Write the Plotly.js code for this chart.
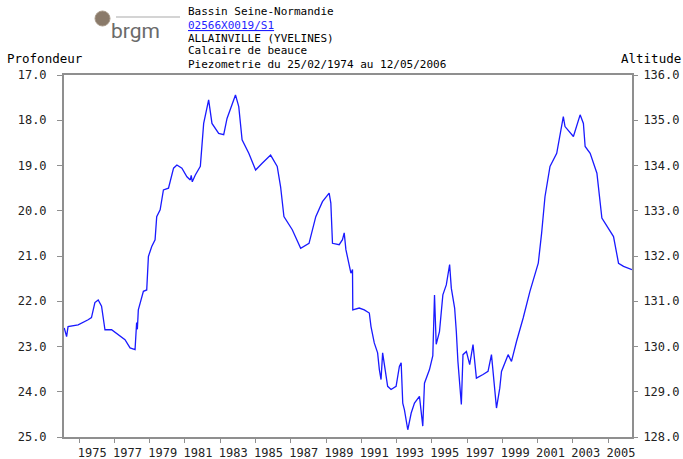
<!DOCTYPE html>
<html>
<head>
<meta charset="utf-8">
<script src="https://cdn.plot.ly/plotly-3.0.1.min.js"></script>
<style>
  body { margin: 0; background: #fff; }
  #chart { width: 683px; height: 459px; }
</style>
</head>
<body>
<div id="chart"></div>
<script>
// piezometre 02566X0019/S1 - niveau (profondeur en m)
var dates = [
  '1974-02-25','1974-04-15','1974-05-15','1974-12-10','1975-07-05','1975-09-12','1975-11-22',
  '1976-01-30','1976-04-08','1976-06-18','1976-11-02','1977-03-20','1977-08-07','1977-11-20',
  '1978-03-03','1978-04-05','1978-04-20','1978-05-10','1978-08-23','1978-10-31','1978-12-05','1979-02-12',
  '1979-04-22','1979-05-26','1979-08-05','1979-10-12','1980-01-25','1980-05-09','1980-07-17',
  '1980-10-29','1981-02-10','1981-04-21','1981-05-10','1981-06-01','1981-08-03','1981-11-15','1982-01-23','1982-05-06',
  '1982-07-14','1982-11-30','1983-03-14','1983-05-22','1983-09-03','1983-11-13','1984-01-20',
  '1984-03-29','1984-08-15','1985-01-03','1985-05-19','1985-11-10','1986-03-27','1986-06-05',
  '1986-08-13','1987-02-02','1987-07-26','1988-01-15','1988-06-03','1988-10-19','1989-03-07',
  '1989-04-11','1989-05-15','1989-10-01','1989-12-08','1990-01-13','1990-02-17','1990-04-26',
  '1990-06-01','1990-07-04','1990-07-10','1990-11-20','1991-03-05','1991-06-17','1991-07-22',
  '1991-09-28','1991-12-06','1992-01-11','1992-02-15','1992-03-19','1992-04-23','1992-07-01',
  '1992-09-10','1992-12-23','1993-03-01','1993-04-07','1993-05-10','1993-06-14','1993-08-22',
  '1993-11-01','1994-01-08','1994-04-21','1994-06-29','1994-08-03','1994-11-15','1995-01-23',
  '1995-02-27','1995-04-03','1995-06-10','1995-08-19','1995-10-29','1996-01-06','1996-02-10',
  '1996-04-19','1996-05-24','1996-06-26','1996-09-05','1996-10-09','1996-12-19','1997-02-25',
  '1997-05-05','1997-07-14','1997-11-28','1998-03-12','1998-05-22','1998-06-24','1998-09-03',
  '1998-11-10','1998-12-16','1999-05-02','1999-07-11','1999-10-23','2000-03-09','2000-07-27',
  '2001-01-16','2001-03-27','2001-06-04','2001-09-16','2002-02-02','2002-06-19','2002-07-24',
  '2003-01-14','2003-06-02','2003-08-09','2003-09-14','2003-12-27','2004-05-15','2004-08-26',
  '2004-12-08','2005-04-24','2005-08-06','2005-11-18','2006-05-12'
];
var profondeur = [
  22.59, 22.78, 22.56, 22.52, 22.41, 22.36, 22.03,
  21.97, 22.11, 22.63, 22.63, 22.74, 22.85, 23.03,
  23.07, 22.47, 22.62, 22.19, 21.78, 21.75, 21.01, 20.79,
  20.64, 20.13, 19.98, 19.54, 19.50, 19.06, 18.99,
  19.06, 19.25, 19.32, 19.22, 19.36, 19.21, 19.02, 18.07, 17.55,
  18.07, 18.29, 18.32, 17.96, 17.66, 17.44, 17.70,
  18.43, 18.73, 19.10, 18.95, 18.77, 19.02, 19.47,
  20.13, 20.42, 20.83, 20.72, 20.13, 19.80, 19.61,
  19.83, 20.72, 20.75, 20.64, 20.49, 20.86, 21.16,
  21.38, 21.30, 22.19, 22.15, 22.19, 22.26, 22.56,
  22.92, 23.14, 23.51, 23.73, 23.14, 23.36, 23.88,
  23.95, 23.88, 23.44, 23.36, 24.25, 24.40, 24.84,
  24.47, 24.25, 24.10, 24.76, 23.81, 23.51, 23.20,
  21.86, 22.95, 22.67, 21.86, 21.64, 21.19, 21.71,
  22.15, 22.67, 23.33, 24.28, 23.18, 23.11, 23.40,
  22.96, 23.70, 23.62, 23.55, 23.18, 23.55, 24.36,
  23.92, 23.55, 23.18, 23.33, 22.89, 22.37, 21.78,
  21.16, 20.49, 19.69, 19.02, 18.73, 17.92, 18.14,
  18.36, 17.88, 18.07, 18.58, 18.73, 19.17, 20.16,
  20.35, 20.57, 21.16, 21.23, 21.30
];

var depthRange = [25, 17];
var altRange = [128, 136];
var axisGrey = '#8f8f8f';
var mono = 'DejaVu Sans Mono, monospace';

var header = [
  {text: 'Bassin Seine-Normandie', py: 12, color: '#000'},
  {text: '<u>02566X0019/S1</u>', py: 25, color: '#1f1fff'},
  {text: 'ALLAINVILLE (YVELINES)', py: 38, color: '#000'},
  {text: 'Calcaire de beauce', py: 51, color: '#000'},
  {text: 'Piezometrie du 25/02/1974 au 12/05/2006', py: 64, color: '#000'}
];

// conversion pixel -> papier (zone de trace 64..632 x 75..437)
function px(x) { return (x - 64) / 568; }
function py(y) { return (437 - y) / 362; }

var annotations = header.map(function (h) {
  return {text: h.text, xref: 'paper', yref: 'paper', x: px(187), y: py(h.py),
          xanchor: 'left', yanchor: 'middle', showarrow: false, borderpad: 0,
          font: {family: mono, size: 11, color: h.color}};
});
annotations.push({text: 'Profondeur', xref: 'paper', yref: 'paper', x: px(6), y: py(59),
  xanchor: 'left', yanchor: 'middle', showarrow: false, borderpad: 0,
  font: {family: mono, size: 12.5, color: '#000'}});
annotations.push({text: 'Altitude', xref: 'paper', yref: 'paper', x: px(682), y: py(59),
  xanchor: 'right', yanchor: 'middle', showarrow: false, borderpad: 0,
  font: {family: mono, size: 12.5, color: '#000'}});
annotations.push({text: 'brgm', xref: 'paper', yref: 'paper', x: px(110), y: py(31),
  xanchor: 'left', yanchor: 'middle', showarrow: false, borderpad: 0,
  font: {family: 'Roboto, sans-serif', size: 21, color: '#6b6b6b'}});

var shapes = [
  {type: 'circle', xref: 'paper', yref: 'paper', x0: px(95), x1: px(110), y0: py(26), y1: py(11),
   fillcolor: '#8a7a6a', line: {color: '#a89a8a', width: 1}},
  {type: 'line', xref: 'paper', yref: 'paper', x0: px(116), x1: px(180), y0: py(17), y1: py(17),
   line: {color: '#d4d4d4', width: 2}}
];

var data = [{
  x: dates,
  y: profondeur,
  type: 'scatter',
  mode: 'lines',
  line: {color: '#1a1aff', width: 1.3},
  hoverinfo: 'x+y',
  showlegend: false
}, {
  // trace vide pour afficher l'axe Altitude
  x: [],
  y: [],
  yaxis: 'y2',
  type: 'scatter',
  mode: 'lines',
  showlegend: false
}];

var layout = {
  width: 683,
  height: 459,
  margin: {l: 64, r: 51, t: 75, b: 22},
  paper_bgcolor: '#fff',
  plot_bgcolor: '#fff',
  showlegend: false,
  xaxis: {
    type: 'date',
    range: ['1974-02-20', '2006-05-12'],
    tick0: '1975-01-01',
    dtick: 'M24',
    tickformat: '%Y',
    ticks: 'outside', ticklen: 4, tickcolor: axisGrey,
    ticklabelshift: 13,
    showgrid: false, zeroline: false,
    showline: true, linecolor: axisGrey, linewidth: 2, mirror: true,
    tickfont: {family: mono, size: 12, color: '#222'}
  },
  yaxis: {
    range: depthRange,
    dtick: 1, tickformat: '.1f',
    ticks: 'outside', ticklen: 5, tickcolor: axisGrey,
    ticklabelstandoff: 8,
    showgrid: false, zeroline: false,
    showline: true, linecolor: axisGrey, linewidth: 2, mirror: true,
    tickfont: {family: mono, size: 12, color: '#222'}
  },
  yaxis2: {
    overlaying: 'y', side: 'right',
    range: altRange, autorange: false,
    dtick: 1, tickformat: '.1f',
    ticks: 'outside', ticklen: 5, tickcolor: axisGrey,
    ticklabelstandoff: 3,
    showgrid: false, zeroline: false, showline: false,
    tickfont: {family: mono, size: 12, color: '#222'}
  },
  annotations: annotations,
  shapes: shapes
};

Plotly.newPlot('chart', data, layout, {displayModeBar: false, staticPlot: true});
</script>
</body>
</html>
